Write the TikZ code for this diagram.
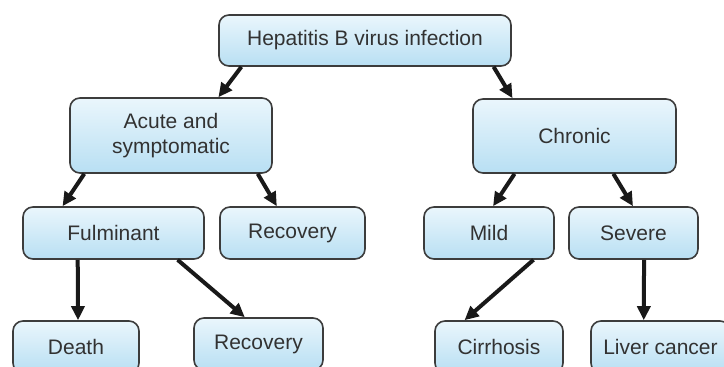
\documentclass[tikz,border=0pt]{standalone}
\usepackage{fontspec}
\setmainfont{Liberation Sans}
\usepackage{xcolor}
\usetikzlibrary{positioning,arrows.meta,calc}
\definecolor{hbtext}{RGB}{50,50,50}
\definecolor{hbedge}{RGB}{60,60,60}
\definecolor{hbtop}{RGB}{234,246,252}
\definecolor{hbbot}{RGB}{184,223,243}
\tikzset{
  box/.style={draw=hbedge, line width=1.6pt, rounded corners=10pt, top color=hbtop, bottom color=hbbot, align=center, inner sep=0pt, text=hbtext, font=\fontsize{21}{25}\selectfont},
  arrow/.style={-{Triangle[length=14pt,width=13pt]}, line width=4pt, black!90}
}

\begin{document}
\begin{tikzpicture}[x=1pt,y=-1pt]
    \useasboundingbox (0,0) rectangle (724,367);
    \node[box, minimum width=292pt, minimum height=51pt] (hbv) at (365,40.5) {Hepatitis B virus infection};
    \node[box, minimum width=202pt, minimum height=75pt] (acute) at (171,135.5) {Acute and\\symptomatic};
    \node[box, minimum width=203pt, minimum height=74pt] (chronic) at (574.5,136) {Chronic};
    \node[box, minimum width=181pt, minimum height=52pt] (fulm) at (113.5,233) {Fulminant};
    \node[box, minimum width=145pt, minimum height=52pt] (recA) at (292.5,233) {Recovery};
    \node[box, minimum width=130pt, minimum height=52pt] (mild) at (489,233) {Mild};
    \node[box, minimum width=129pt, minimum height=52pt] (severe) at (633.5,233) {Severe};
    \node[box, minimum width=126pt, minimum height=52pt] (death) at (76,347) {Death};
    \node[box, minimum width=129pt, minimum height=52pt] (recB) at (258.5,344) {Recovery};
    \node[box, minimum width=128pt, minimum height=52pt] (cirr) at (499,347) {Cirrhosis};
    \node[box, minimum width=139pt, minimum height=52pt] (liver) at (660.5,347) {Liver cancer};
    % infection branches
    \draw[arrow] ($(hbv.south west)!.079!(hbv.south east)$) -- ($(acute.north west)!.733!(acute.north east)$);
    \draw[arrow] ($(hbv.south west)!.938!(hbv.south east)$) -- ($(chronic.north west)!.197!(chronic.north east)$);
    % acute
    \draw[arrow] ($(acute.south west)!.074!(acute.south east)$) -- ($(fulm.north west)!.221!(fulm.north east)$);
    \draw[arrow] ($(acute.south west)!.926!(acute.south east)$) -- ($(recA.north west)!.393!(recA.north east)$);
    % chronic
    \draw[arrow] ($(chronic.south west)!.207!(chronic.south east)$) -- ($(mild.north west)!.531!(mild.north east)$);
    \draw[arrow] ($(chronic.south west)!.69!(chronic.south east)$) -- ($(severe.north west)!.496!(severe.north east)$);
    % outcomes
    \draw[arrow] ($(fulm.south west)!.304!(fulm.south east)$) -- ($(death.north west)!.516!(death.north east)$);
    \draw[arrow] ($(fulm.south west)!.851!(fulm.south east)$) -- ($(recB.north west)!.395!(recB.north east)$);
    \draw[arrow] ($(mild.south west)!.838!(mild.south east)$) -- ($(cirr.north west)!.234!(cirr.north east)$);
    \draw[arrow] ($(severe.south west)!.581!(severe.south east)$) -- ($(liver.north west)!.381!(liver.north east)$);
\end{tikzpicture}
\end{document}
